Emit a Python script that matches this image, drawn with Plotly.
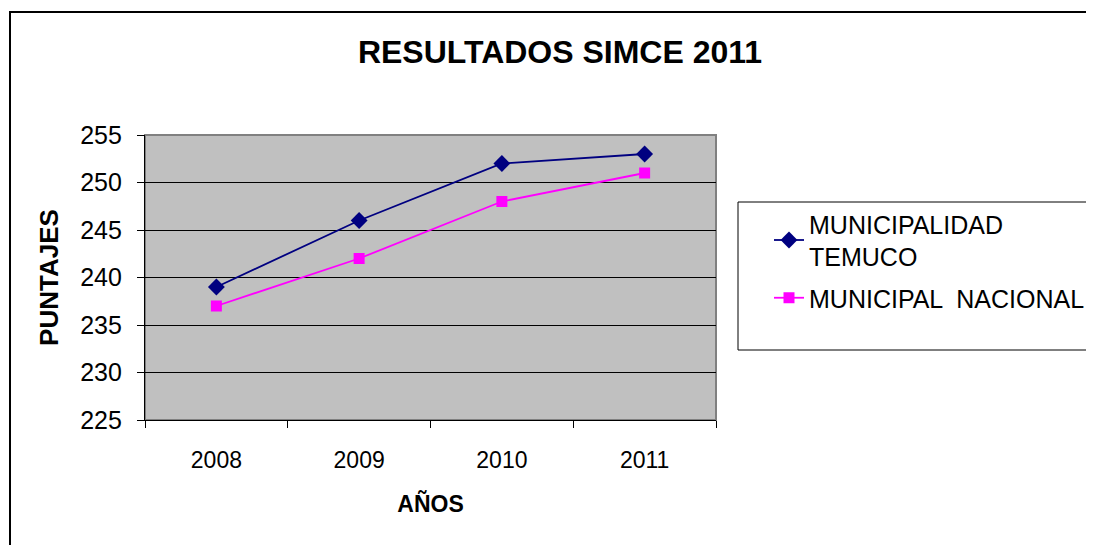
import plotly.graph_objects as go

years = ["2008", "2009", "2010", "2011"]
temuco = [239, 246, 252, 253]
nacional = [237, 242, 248, 251]
series_names = ["MUNICIPALIDAD<br>TEMUCO", "MUNICIPAL  NACIONAL"]
y_ticks = [225, 230, 235, 240, 245, 250, 255]

OFF = 8  # page body margin
W, H = 1094 - OFF, 545 - OFF
L, R, T, B = 145 - OFF, 716 - OFF, 135 - OFF, 420 - OFF
pw, ph = R - L, B - T

def px(x):
    return (x - OFF - L) / pw

def py(y):
    return (B - (y - OFF)) / ph

FONT = "Liberation Sans, Arial, sans-serif"

fig = go.Figure()
fig.add_trace(go.Scatter(
    x=years, y=temuco, name=series_names[0], mode="lines+markers",
    legendgroup="g1",
    line=dict(color="#000080", width=1.8),
    marker=dict(symbol="diamond", size=13, color="#000080"),
))
fig.add_trace(go.Scatter(
    x=years, y=nacional, name=series_names[1], mode="lines+markers",
    legendgroup="g2",
    line=dict(color="#FF00FF", width=1.8),
    marker=dict(symbol="square", size=11, color="#FF00FF"),
))

fig.update_layout(
    width=W, height=H,
    margin=dict(l=L, r=W - R, t=T, b=H - B, pad=0, autoexpand=False),
    paper_bgcolor="white", plot_bgcolor="#C0C0C0",
    font=dict(family=FONT, color="black"),
    title=dict(text="<b>RESULTADOS SIMCE 2011</b>", x=(560 - OFF) / W, xanchor="center",
               y=1 - (52 - OFF) / H, yanchor="middle", font=dict(size=32, family=FONT)),
    showlegend=True,
    legend=dict(x=px(769), xanchor="left", y=py(201), yanchor="top",
                bgcolor="rgba(0,0,0,0)", borderwidth=0,
                font=dict(size=25, family=FONT), tracegroupgap=6,
                itemwidth=30),
    xaxis=dict(type="category", range=[-0.5, 3.5], tickson="boundaries",
               ticks="outside", ticklen=7, tickcolor="black",
               showline=True, linecolor="black", linewidth=1.2,
               showgrid=False, tickfont=dict(size=23), ticklabelstandoff=19,
               title=dict(text="<b>AÑOS</b>", font=dict(size=23), standoff=24)),
    yaxis=dict(range=[225, 255], tickvals=y_ticks, ticks="outside", ticklen=7,
               tickcolor="black", showline=True, linecolor="black", linewidth=1.2,
               showgrid=True, gridcolor="black", gridwidth=1, zeroline=False,
               tickfont=dict(size=25), ticklabelstandoff=10,
               title=dict(text="<b>PUNTAJES</b>", font=dict(size=26), standoff=14)),
    shapes=[
        # plot area gray border (top/right)
        dict(type="rect", xref="paper", yref="paper", x0=0, x1=1, y0=0, y1=1,
             line=dict(color="#808080", width=2), layer="below"),
        # outer chart border
        dict(type="rect", xref="paper", yref="paper",
             x0=px(10), x1=px(1120), y0=py(580), y1=py(12),
             line=dict(color="black", width=2)),
        # legend box
        dict(type="rect", xref="paper", yref="paper",
             x0=px(738), x1=px(1120), y0=py(350), y1=py(202),
             line=dict(color="black", width=1)),
    ],
)

fig.write_html("out.html")
